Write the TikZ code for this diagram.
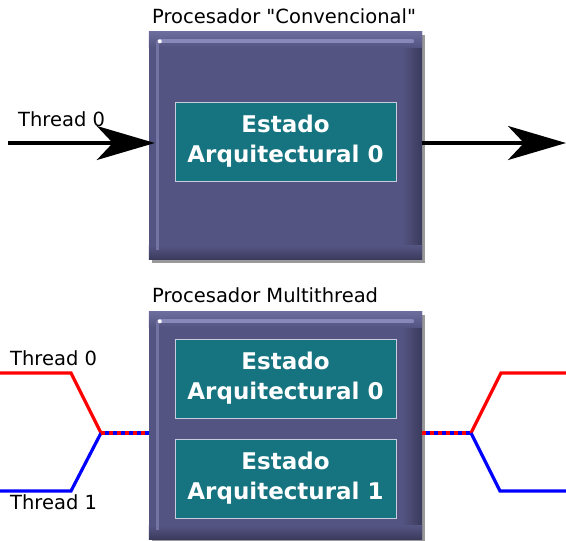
\documentclass[tikz,border=0pt]{standalone}
\usepackage{fontspec}
\setmainfont{DejaVu Sans}[Ligatures=TeXOff]
\usetikzlibrary{arrows.meta,positioning,shadows}

\definecolor{procfill}{HTML}{545482}
\definecolor{procdark}{HTML}{3A3A5C}
\definecolor{proclight}{HTML}{8888BA}
\definecolor{statefill}{HTML}{167480}
\definecolor{stateline}{HTML}{C8CCDC}
\definecolor{thrred}{HTML}{FF0000}
\definecolor{thrblue}{HTML}{0000FF}

\begin{document}
\begin{tikzpicture}[
  x=1pt, y=-1pt,
  node distance=20pt and 10pt,
  every node/.style={inner sep=0pt},
  title/.style={font=\fontsize{19.5}{23}\selectfont, anchor=base west},
  proc/.style={
    fill=procfill, minimum width=273pt, minimum height=228pt,
    drop shadow={shadow xshift=3pt, shadow yshift=-3pt, fill=black, opacity=.4},
  },
  state/.style={
    fill=statefill, draw=stateline, line width=1pt,
    minimum width=221pt, minimum height=79pt,
    align=center, text=white,
    font=\fontsize{23}{30}\selectfont\bfseries,
  },
  bigarrow/.style={line width=3.5pt, -{Stealth[length=58pt, width=34pt, inset=16pt]}},
  thr0/.style={thrred, line width=3.2pt},
  thr1/.style={thrblue, line width=3.2pt},
  mixed/.style={thrblue, line width=3.2pt,
    postaction={draw=thrred, dash pattern=on 4pt off 4pt}},
]
\useasboundingbox (0,0) rectangle (566,541);

% Conventional processor
\node[title] (convtitle) at (152,23) {Procesador "Convencional"};
\node[proc] (conv) at (285.5,145.5) {};

% Multithread processor
\node[title] (multititle) at (152,302) {Procesador Multithread};
\node[proc] (multi) at (285.5,425.5) {};

% Bevel on the processor boxes
\foreach \b in {conv,multi}{
  \shade[left color=procfill, right color=procdark]
    ([xshift=-20pt]\b.north east) rectangle (\b.south east);
  \shade[top color=procfill, bottom color=procdark]
    ([yshift=14pt]\b.south west) rectangle (\b.south east);
  \shade[top color=proclight!50!procfill, bottom color=procfill]
    (\b.north west) rectangle ([yshift=-16pt]\b.north east);
  \draw[line width=4pt, proclight, line cap=round]
    ([shift={(10,10)}]\b.north west) -- ([shift={(-10,10)}]\b.north east);
  \draw[line width=3pt, proclight!60!procfill]
    ([shift={(9,10)}]\b.north west) -- ([shift={(9,-10)}]\b.south west);
  \fill[white] ([shift={(11,10)}]\b.north west) circle (2pt);
}

% Architectural states
\node[state, yshift=4pt] (st0) at (conv) {Estado\\Arquitectural 0};
\node[state] (sta) at (285.5,378.5) {Estado\\Arquitectural 0};
\node[state, below=20pt of sta] (stb) {Estado\\Arquitectural 1};

% Single thread
\coordinate (in0) at (8,143);
\coordinate (out0) at (566,143);
\node[title] (lbl0) at (18,126) {Thread 0};
\draw[bigarrow] (in0) -- ([xshift=6pt]in0 -| conv.west);
\draw[bigarrow] (in0 -| conv.east) -- (out0);

% Two threads
\coordinate (joinL) at (101,433);
\coordinate (joinR) at (471,433);
\coordinate (t0L) at (0,373);
\coordinate (t1L) at (0,491);
\coordinate (t0R) at (566,373);
\coordinate (t1R) at (566,491);
\node[title] (lblt0) at (10,365) {Thread 0};
\node[title] (lblt1) at (10,509) {Thread 1};

\draw[thr0] (t0L) -- ++(71,0) -- (joinL);
\draw[thr1] (t1L) -- ++(71,0) -- (joinL);
\draw[mixed] (joinL) -- (joinL -| multi.west);
\draw[mixed] (joinL -| multi.east) -- (joinR);
\draw[thr0] (joinR) -- ++(30,-60) -- (t0R);
\draw[thr1] (joinR) -- ++(29,58) -- (t1R);

\end{tikzpicture}
\end{document}
